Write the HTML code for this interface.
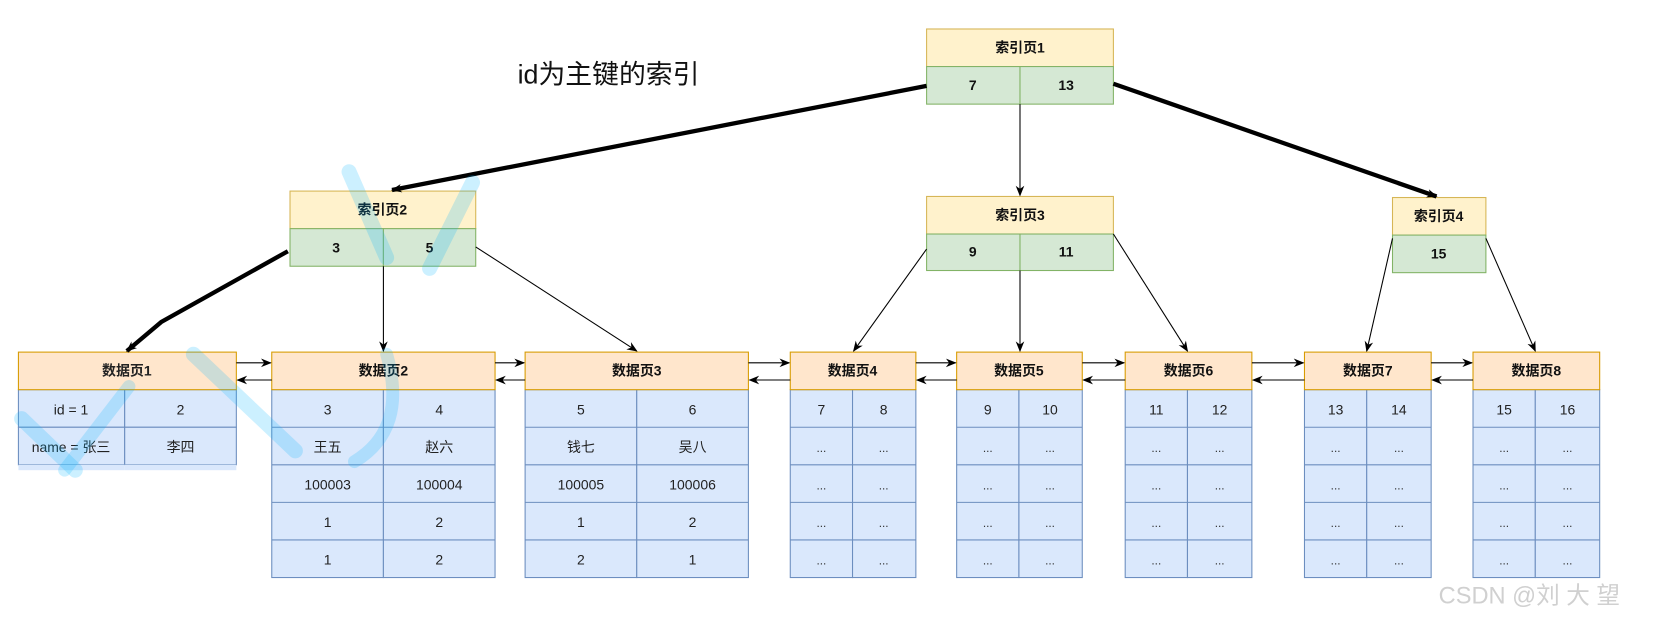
<!DOCTYPE html>
<html><head><meta charset="utf-8"><style>
html,body{margin:0;padding:0;background:#fff;}
svg{display:block;}
text{font-family:"Liberation Sans","Noto Sans CJK SC",sans-serif;}
</style></head><body>
<svg width="1675" height="628" viewBox="0 0 1560 585" xmlns="http://www.w3.org/2000/svg">
<defs>
<marker id="a" markerWidth="10" markerHeight="10" refX="9" refY="5" orient="auto" markerUnits="userSpaceOnUse"><path d="M0,1 L10,5 L0,9 L3,5 z" fill="#000"/></marker>
</defs>
<rect width="1560" height="585" fill="#fff"/>
<text x="482" y="78" font-size="25" fill="#111">id为主键的索引</text>

<!-- index pages -->
<g stroke-width="1">
<rect x="863" y="27" width="174" height="35" fill="#fff2cc" stroke="#d6b656"/>
<rect x="863" y="62" width="87" height="35" fill="#d5e8d4" stroke="#82b366"/>
<rect x="950" y="62" width="87" height="35" fill="#d5e8d4" stroke="#82b366"/>
<rect x="270" y="178" width="173" height="35" fill="#fff2cc" stroke="#d6b656"/>
<rect x="270" y="213" width="87" height="35" fill="#d5e8d4" stroke="#82b366"/>
<rect x="357" y="213" width="86" height="35" fill="#d5e8d4" stroke="#82b366"/>
<rect x="863" y="183" width="174" height="35" fill="#fff2cc" stroke="#d6b656"/>
<rect x="863" y="218" width="87" height="34" fill="#d5e8d4" stroke="#82b366"/>
<rect x="950" y="218" width="87" height="34" fill="#d5e8d4" stroke="#82b366"/>
<rect x="1297" y="184" width="87" height="35" fill="#fff2cc" stroke="#d6b656"/>
<rect x="1297" y="219" width="87" height="35" fill="#d5e8d4" stroke="#82b366"/>
</g>
<g font-size="13" font-weight="bold" text-anchor="middle" fill="#111">
<text x="950" y="49">索引页1</text><text x="906" y="84">7</text><text x="993" y="84">13</text>
<text x="356" y="200">索引页2</text><text x="313" y="235">3</text><text x="400" y="235">5</text>
<text x="950" y="205">索引页3</text><text x="906" y="239">9</text><text x="993" y="239">11</text>
<text x="1340" y="206">索引页4</text><text x="1340" y="241">15</text>
</g>

<!-- data pages -->
<g id="dp">
<g stroke="#6c8ebf" fill="#dae8fc">
<!-- DP1 -->
<rect x="17" y="363" width="99" height="35"/><rect x="116" y="363" width="104" height="35"/>
<rect x="17" y="398" width="99" height="35"/><rect x="116" y="398" width="104" height="35"/>
<rect x="17" y="433" width="99" height="5" stroke="none"/><rect x="116" y="433" width="104" height="5" stroke="none"/>
</g>
<rect x="17" y="328" width="203" height="35" fill="#ffe6cc" stroke="#d79b00"/>
</g>
<g font-size="13" text-anchor="middle" fill="#222">
<text x="118" y="350" font-weight="bold">数据页1</text>
<text x="66" y="386">id = 1</text><text x="168" y="386">2</text>
<text x="66" y="421">name = 张三</text><text x="168" y="421">李四</text>
</g>

<g stroke="#6c8ebf" fill="#dae8fc">
<rect x="253" y="363" width="104" height="175"/><rect x="357" y="363" width="104" height="175"/>
<rect x="489" y="363" width="104" height="175"/><rect x="593" y="363" width="104" height="175"/>
<rect x="736" y="363" width="58" height="175"/><rect x="794" y="363" width="59" height="175"/>
<rect x="891" y="363" width="58" height="175"/><rect x="949" y="363" width="59" height="175"/>
<rect x="1048" y="363" width="58" height="175"/><rect x="1106" y="363" width="60" height="175"/>
<rect x="1215" y="363" width="58" height="175"/><rect x="1273" y="363" width="60" height="175"/>
<rect x="1372" y="363" width="58" height="175"/><rect x="1430" y="363" width="60" height="175"/>
<path d="M253,398H461M253,433H461M253,468H461M253,503H461M489,398H697M489,433H697M489,468H697M489,503H697M736,398H853M736,433H853M736,468H853M736,503H853M891,398H1008M891,433H1008M891,468H1008M891,503H1008M1048,398H1166M1048,433H1166M1048,468H1166M1048,503H1166M1215,398H1333M1215,433H1333M1215,468H1333M1215,503H1333M1372,398H1490M1372,433H1490M1372,468H1490M1372,503H1490" fill="none"/>
</g>
<g fill="#ffe6cc" stroke="#d79b00">
<rect x="253" y="328" width="208" height="35"/><rect x="489" y="328" width="208" height="35"/>
<rect x="736" y="328" width="117" height="35"/><rect x="891" y="328" width="117" height="35"/>
<rect x="1048" y="328" width="118" height="35"/><rect x="1215" y="328" width="118" height="35"/>
<rect x="1372" y="328" width="118" height="35"/>
</g>
<g font-size="13" font-weight="bold" text-anchor="middle" fill="#111">
<text x="357" y="350">数据页2</text><text x="593" y="350">数据页3</text><text x="794" y="350">数据页4</text>
<text x="949" y="350">数据页5</text><text x="1107" y="350">数据页6</text><text x="1274" y="350">数据页7</text><text x="1431" y="350">数据页8</text>
</g>
<g font-size="13" text-anchor="middle" fill="#222">
<text x="305" y="386">3</text><text x="409" y="386">4</text>
<text x="305" y="421">王五</text><text x="409" y="421">赵六</text>
<text x="305" y="456">100003</text><text x="409" y="456">100004</text>
<text x="305" y="491">1</text><text x="409" y="491">2</text>
<text x="305" y="526">1</text><text x="409" y="526">2</text>
<text x="541" y="386">5</text><text x="645" y="386">6</text>
<text x="541" y="421">钱七</text><text x="645" y="421">吴八</text>
<text x="541" y="456">100005</text><text x="645" y="456">100006</text>
<text x="541" y="491">1</text><text x="645" y="491">2</text>
<text x="541" y="526">2</text><text x="645" y="526">1</text>
<text x="765" y="386">7</text><text x="823" y="386">8</text>
<text x="920" y="386">9</text><text x="978" y="386">10</text>
<text x="1077" y="386">11</text><text x="1136" y="386">12</text>
<text x="1244" y="386">13</text><text x="1303" y="386">14</text>
<text x="1401" y="386">15</text><text x="1460" y="386">16</text>
</g>
<g font-size="11" text-anchor="middle" fill="#333">
<text x="765" y="421">...</text><text x="823" y="421">...</text><text x="765" y="456">...</text><text x="823" y="456">...</text><text x="765" y="491">...</text><text x="823" y="491">...</text><text x="765" y="526">...</text><text x="823" y="526">...</text>
<text x="920" y="421">...</text><text x="978" y="421">...</text><text x="920" y="456">...</text><text x="978" y="456">...</text><text x="920" y="491">...</text><text x="978" y="491">...</text><text x="920" y="526">...</text><text x="978" y="526">...</text>
<text x="1077" y="421">...</text><text x="1136" y="421">...</text><text x="1077" y="456">...</text><text x="1136" y="456">...</text><text x="1077" y="491">...</text><text x="1136" y="491">...</text><text x="1077" y="526">...</text><text x="1136" y="526">...</text>
<text x="1244" y="421">...</text><text x="1303" y="421">...</text><text x="1244" y="456">...</text><text x="1303" y="456">...</text><text x="1244" y="491">...</text><text x="1303" y="491">...</text><text x="1244" y="526">...</text><text x="1303" y="526">...</text>
<text x="1401" y="421">...</text><text x="1460" y="421">...</text><text x="1401" y="456">...</text><text x="1460" y="456">...</text><text x="1401" y="491">...</text><text x="1460" y="491">...</text><text x="1401" y="526">...</text><text x="1460" y="526">...</text>
</g>

<!-- sibling arrows -->
<g stroke="#000" stroke-width="1" fill="none" marker-end="url(#a)">
<path d="M220,338H252"/><path d="M253,354H221"/>
<path d="M461,338H488"/><path d="M489,354H462"/>
<path d="M697,338H735"/><path d="M736,354H698"/>
<path d="M853,338H890"/><path d="M891,354H854"/>
<path d="M1008,338H1047"/><path d="M1048,354H1009"/>
<path d="M1166,338H1214"/><path d="M1215,354H1167"/>
<path d="M1333,338H1371"/><path d="M1372,354H1334"/>
</g>
<!-- tree connectors -->
<g stroke="#000" fill="none" marker-end="url(#a)">
<path d="M863,80 L365,177" stroke-width="4"/>
<path d="M1037,78 L1338,183" stroke-width="4"/>
<path d="M268,234 L150,300 L118,327" stroke-width="4"/>
<path d="M950,97 V182" stroke-width="1"/>
<path d="M357,248 V327" stroke-width="1"/>
<path d="M443,230 L593,327" stroke-width="1"/>
<path d="M863,232 L795,327" stroke-width="1"/>
<path d="M950,252 V327" stroke-width="1"/>
<path d="M1037,218 L1106,327" stroke-width="1"/>
<path d="M1297,222 L1273,327" stroke-width="1"/>
<path d="M1384,222 L1430,327" stroke-width="1"/>
</g>

<!-- watermark-ish cyan strokes -->
<g fill="none" stroke="#00b4ff" stroke-opacity="0.2" stroke-linecap="round">
<path d="M325,160 L360,240" stroke-width="14"/>
<path d="M440,170 L400,250" stroke-width="14"/>
<path d="M360,330 Q380,400 330,430" stroke-width="12"/>
<path d="M180,330 L275,420" stroke-width="14"/>
<path d="M20,390 L70,438" stroke-width="14"/>
<path d="M120,360 L60,438" stroke-width="12"/>
</g>

<text x="1340" y="562" font-size="22" fill="#d0d0d0">CSDN @刘 大 望</text>
</svg>
</body></html>
